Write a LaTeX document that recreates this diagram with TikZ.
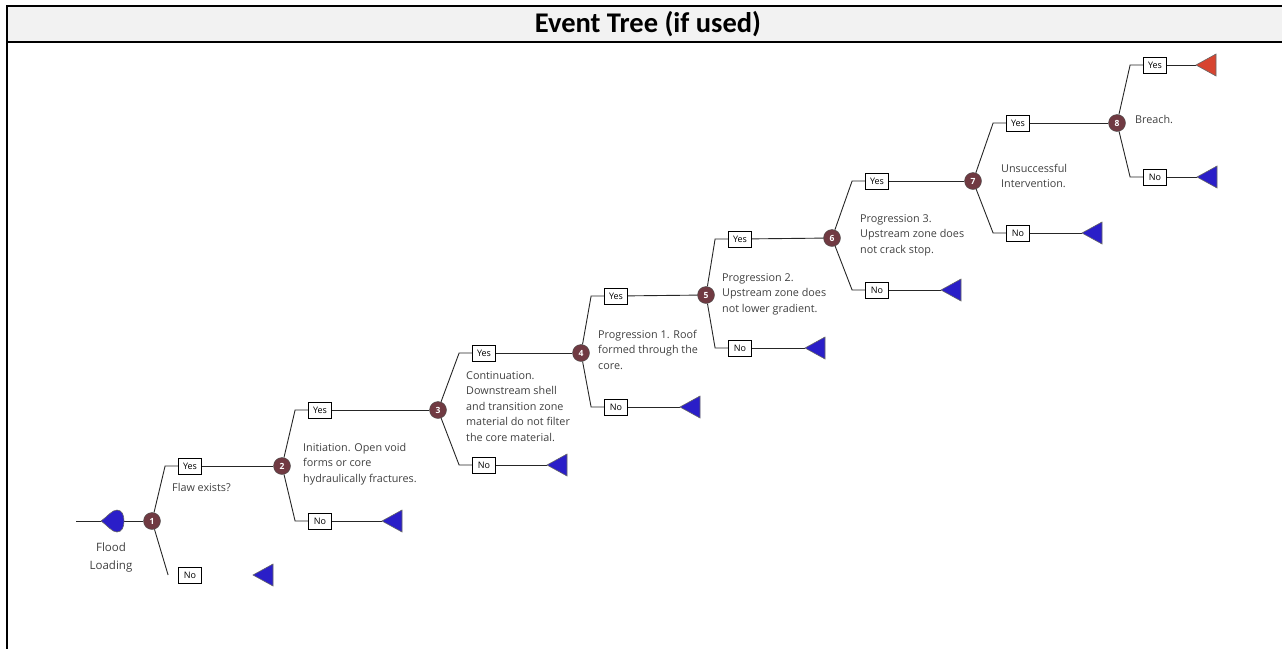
\documentclass[tikz,border=0pt]{standalone}
\usepackage{fontspec}
\setmainfont{Carlito}
\newfontfamily\treefont{Open Sans}
\usepackage{xcolor}
\definecolor{evmaroon}{RGB}{112,58,66}
\definecolor{evblue}{RGB}{42,30,200}
\definecolor{evred}{RGB}{215,68,48}
\definecolor{evhead}{RGB}{242,242,242}
\definecolor{evtext}{RGB}{64,64,64}

\begin{document}
\begin{tikzpicture}[x=1pt,y=-1pt,
  chance/.style={circle,draw=black!70,fill=evmaroon,text=white,
    font=\treefont\bfseries\fontsize{8.5}{8.5}\selectfont,minimum size=17pt,inner sep=0pt},
  answer/.style={draw,rectangle,fill=white,minimum width=23pt,minimum height=16pt,
    inner sep=0pt,line width=0.8pt,font=\treefont\fontsize{9}{9}\selectfont},
  note/.style={align=left,anchor=north west,inner sep=0pt,text=evtext,
    font=\treefont\fontsize{10.8}{15.5}\selectfont},
  branch/.style={black!85,line width=0.9pt},
  endblue/.style={draw=black!60,fill=evblue,line width=0.6pt},
  endred/.style={draw=black!60,fill=evred,line width=0.6pt}]
\useasboundingbox (0,0) rectangle (1282,649);
\fill[evhead] (7,6) rectangle (1282,42);
\draw[line width=2pt] (1282,6) -- (7,6) -- (7,649);
\draw[line width=1.6pt] (7,42) -- (1282,42);
\node[font=\bfseries\fontsize{28.5}{30}\selectfont] (title) at (648,24) {Event Tree (if used)};

\foreach \i/\x/\y/\bx/\yy/\ny/\tx in {1/152/521/190/466/575/253,2/282/466/320/410/521/382,
    3/438/410/484/353/465/547,4/581/353/616/296/407/680,5/706/295/740/239/348/805,
    6/832/238/877/181/290/941,7/973/181/1018/123/233/1082,8/1117/123/1155/65/177/1197} {
  \node[chance] (e\i) at (\x,\y) {\i};
  \node[answer] (y\i) at (\bx,\yy) {Yes};
  \node[answer] (n\i) at (\bx,\ny) {No};
  \coordinate (t\i) at (\tx,\ny);
  \draw[branch] (e\i) -- ([xshift=-13pt]y\i.west) -- (y\i.west);
}
\foreach \i in {2,...,8} {
  \draw[branch] (e\i) -- ([xshift=-13pt]n\i.west) -- (n\i.west);
  \draw[branch] (n\i) -- (t\i);
}
\foreach \i in {1,...,8}
  \filldraw[endblue] (t\i) -- ++(20,-11) -- ++(0,22) -- cycle;
\foreach \i [count=\j from 2] in {1,...,7}
  \draw[branch] (y\i) -- (e\j);
\coordinate (r8) at (1196,65);
\draw[branch] (y8) -- (r8);
\filldraw[endred] (r8) -- ++(20,-11) -- ++(0,22) -- cycle;
\draw[branch] (e1) -- ([xshift=-10pt]n1.west);

\coordinate (src) at (76,521);
\coordinate (fl) at (101,521);
\coordinate (fr) at (124,521);
\draw[branch] (src) -- (fl);
\draw[branch] (fr) -- (e1);
\filldraw[endblue] (fl) .. controls (108,516) and (112,510) .. (117,510)
  .. controls (122,510) and (124,515) .. (fr)
  .. controls (124,527) and (122,532) .. (117,532)
  .. controls (112,532) and (108,526) .. (fl);
\node[align=center,text=evtext,font=\treefont\fontsize{11.5}{18}\selectfont] (flood) at (111,558) {Flood\\Loading};

\node[note] (l1) at (172,483) {Flaw exists?};
\node[note] (l2) at (303,443) {Initiation. Open void\\forms or core\\hydraulically fractures.};
\node[note] (l3) at (466,371) {Continuation.\\Downstream shell\\and transition zone\\material do not filter\\the core material.};
\node[note] (l4) at (598,330) {Progression 1. Roof\\formed through the\\core.};
\node[note] (l5) at (722,273) {Progression 2.\\Upstream zone does\\not lower gradient.};
\node[note] (l6) at (860,214) {Progression 3.\\Upstream zone does\\not crack stop.};
\node[note] (l7) at (1001,164) {Unsuccessful\\Intervention.};
\node[note] (l8) at (1135,115) {Breach.};
\end{tikzpicture}
\end{document}
